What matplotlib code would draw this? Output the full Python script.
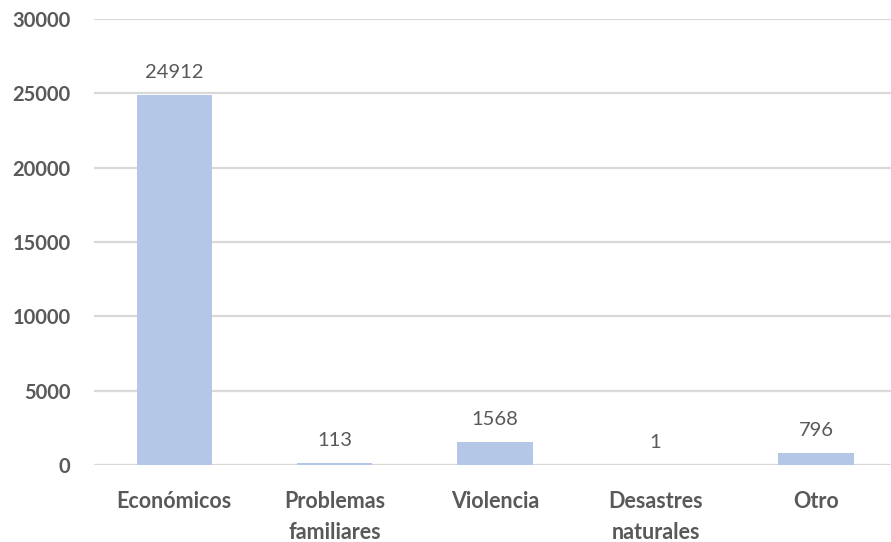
import matplotlib.pyplot as plt

plt.rcParams['font.family'] = ['Lato', 'DejaVu Sans']

# motivos y número de casos
categorias = ["Económicos", "Problemas\nfamiliares", "Violencia", "Desastres\nnaturales", "Otro"]
casos = [24912, 113, 1568, 1, 796]
y_ticks = [0, 5000, 10000, 15000, 20000, 25000, 30000]

texto = "#595959"
barra = "#B4C7E7"

fig = plt.figure(figsize=(8.91, 5.42), dpi=100)
ax = fig.add_axes([94 / 891, 77 / 542, 1 - 94 / 891 + 0.006, (465 - 19) / 542])

x = range(len(categorias))
bars = ax.bar(x, casos, width=0.47, color=barra, zorder=2)

for b, v in zip(bars, casos):
    ax.annotate(str(v), (b.get_x() + b.get_width() / 2, v), xytext=(0, 10),
                textcoords="offset points", ha="center", va="bottom",
                fontsize=14.5, color=texto)

ax.set_xlim(-0.5, len(categorias) - 0.5)
ax.set_ylim(0, 30000)
ax.set_yticks(y_ticks)
ax.set_yticklabels([str(t) for t in y_ticks], fontsize=14.5, fontweight="bold", color=texto)
ax.set_xticks(list(x))
ax.set_xticklabels(categorias, fontsize=15.5, fontweight="bold", color=texto, linespacing=1.55)
ax.tick_params(axis="both", length=0)
ax.tick_params(axis="y", pad=17)
ax.tick_params(axis="x", pad=19)

ax.yaxis.grid(True, color="#D9D9D9", linewidth=1.6, zorder=0)
for s in ax.spines.values():
    s.set_visible(False)

fig.savefig("out.png", dpi=100)
